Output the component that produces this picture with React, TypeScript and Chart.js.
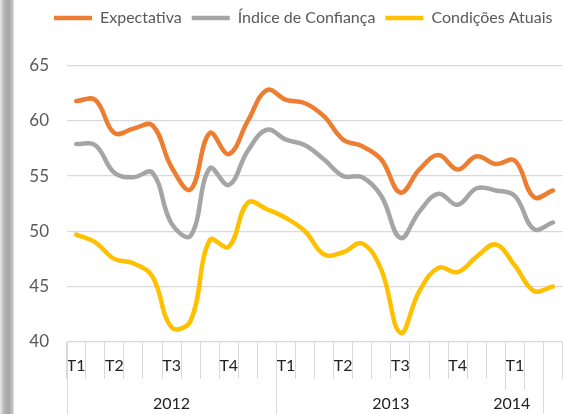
import React, { useEffect, useRef } from "react";
import { Chart, registerables } from "chart.js";

Chart.register(...registerables);

const quarterLabels = [
  "T1", "", "T2", "", "", "T3", "", "", "T4", "", "",
  "T1", "", "", "T2", "", "", "T3", "", "", "T4", "", "",
  "T1", "", "",
];

const years = ["2012", "2013", "2014"];
const yearStart = [0, 11, 23];
const yearEnd = [10, 22, 23];

const expectativa = [
  61.8, 61.9, 58.9, 59.3, 59.6, 55.8, 53.8, 58.9, 57.0, 60.0, 62.8,
  61.9, 61.6, 60.4, 58.3, 57.7, 56.5, 53.5, 55.6, 56.9, 55.6, 56.8, 56.1,
  56.4, 53.1, 53.7,
];
const indiceConfianca = [
  57.9, 57.8, 55.3, 54.9, 55.3, 50.7, 49.6, 55.7, 54.2, 57.3, 59.2,
  58.3, 57.8, 56.5, 55.0, 54.9, 53.2, 49.4, 51.8, 53.4, 52.4, 53.9, 53.7,
  53.2, 50.2, 50.8,
];
const condicoesAtuais = [
  49.7, 49.0, 47.5, 47.1, 45.9, 41.3, 41.9, 49.2, 48.6, 52.6, 52.0,
  51.2, 50.0, 47.9, 48.1, 48.9, 46.5, 40.8, 44.6, 46.7, 46.3, 47.7, 48.8,
  46.9, 44.6, 45.0,
];

const seriesNames = ["Expectativa", "Índice de Confiança", "Condições Atuais"];
const seriesColors = ["#ED7D31", "#A5A5A5", "#FFC000"];

const FONT = "Lato, 'Open Sans', sans-serif";
const GRID = "#d9d9d9";

const legendSpacePlugin = {
  id: "legendSpace",
  afterInit(chart: any) {
    const lg = chart.legend;
    if (lg && !lg._spacePatched) {
      const orig = lg.fit.bind(lg);
      lg.fit = () => {
        orig();
        lg.height = 65.7;
      };
      lg._spacePatched = true;
    }
  },
};

const axisGroupsPlugin = {
  id: "axisGroups",
  afterDraw(chart: any) {
    const ctx = chart.ctx;
    const x = chart.scales.x;
    const top = x.top;
    const H = chart.height;
    ctx.save();
    ctx.strokeStyle = GRID;
    ctx.lineWidth = 1;
    const longB = [yearStart[0] - 0.5, yearEnd[0] + 0.5, quarterLabels.length - 1.5];
    const midB = [yearStart[2] - 0.5, yearEnd[2] + 0.5];
    ctx.beginPath();
    longB.forEach((b) => {
      const px = Math.round(x.getPixelForValue(b)) + 0.5;
      ctx.moveTo(px, top);
      ctx.lineTo(px, H);
    });
    midB.forEach((b) => {
      const px = Math.round(x.getPixelForValue(b)) + 0.5;
      ctx.moveTo(px, top);
      ctx.lineTo(px, top + 48);
    });
    ctx.stroke();
    ctx.fillStyle = "#222";
    ctx.font = `16px ${FONT}`;
    ctx.textAlign = "center";
    ctx.textBaseline = "middle";
    years.forEach((y, i) => {
      const c = (yearStart[i] + yearEnd[i]) / 2;
      ctx.fillText(y, x.getPixelForValue(c) - (i === 2 ? 3 : 0), top + 62);
    });
    ctx.restore();
  },
};

export default function App() {
  const ref = useRef<HTMLCanvasElement>(null);
  useEffect(() => {
    document.body.style.margin = "0";
    const datasets = [expectativa, indiceConfianca, condicoesAtuais].map((d, i) => ({
      label: seriesNames[i],
      data: d,
      borderColor: seriesColors[i],
      backgroundColor: seriesColors[i],
      borderWidth: 4.5,
      borderCapStyle: "round" as const,
      borderJoinStyle: "round" as const,
      pointRadius: 0,
      tension: 0.4,
      fill: false,
    }));
    const chart = new Chart(ref.current as HTMLCanvasElement, {
      type: "line",
      data: { labels: quarterLabels, datasets },
      plugins: [legendSpacePlugin, axisGroupsPlugin],
      options: {
        animation: false,
        responsive: false,
        events: [],
        layout: { padding: { top: 0, left: 0, right: 1.5, bottom: 0 } },
        plugins: {
          tooltip: { enabled: false },
          legend: {
            position: "top",
            align: "end",
            labels: {
              usePointStyle: true,
              pointStyle: "line",
              pointStyleWidth: 38,
              padding: 10,
              color: "#595959",
              font: { family: FONT, size: 16 },
            },
          },
        },
        scales: {
          x: {
            type: "category",
            offset: true,
            grid: {
              offset: true,
              drawOnChartArea: false,
              drawTicks: true,
              tickLength: 37,
              color: (c: any) => (c.index >= quarterLabels.length ? "rgba(0,0,0,0)" : GRID),
              lineWidth: 1,
            },
            border: { display: false },
            ticks: {
              autoSkip: false,
              maxRotation: 0,
              minRotation: 0,
              padding: -22.5,
              color: "#222",
              font: { family: FONT, size: 16 },
            },
            afterFit: (s: any) => {
              s.height = 72.3;
            },
          },
          y: {
            min: 40,
            max: 65,
            grid: { color: GRID, lineWidth: 1.3, drawTicks: false },
            border: { display: false },
            ticks: {
              stepSize: 5,
              padding: 17.7,
              color: "#595959",
              font: { family: FONT, size: 17 },
            },
            afterFit: (s: any) => {
              s.width = 66.7;
            },
          },
        },
      },
    });
    return () => chart.destroy();
  }, []);
  return (
    <div style={{ position: "fixed", left: 0, top: 0, width: 564, height: 414, background: "#fff" }}>
      <div
        style={{
          position: "absolute",
          left: 0,
          top: 0,
          width: 14,
          height: 414,
          background:
            "linear-gradient(to right, #ececec 0px, #cfcfcf 2px, #b0b0b0 5px, #a6a6a6 9px, #bdbdbd 12px, #e2e2e2 14px)",
        }}
      />
      <canvas ref={ref} width={564} height={414} style={{ position: "absolute", left: 0, top: 0, display: "block" }} />
    </div>
  );
}
